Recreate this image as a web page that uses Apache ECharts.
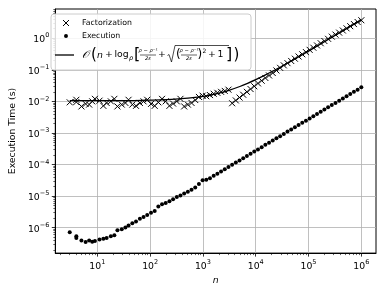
<!DOCTYPE html>
<html><head><meta charset="utf-8">
<script src="https://cdn.jsdelivr.net/npm/echarts@6/dist/echarts.min.js"></script>
<style>html,body{margin:0;padding:0;background:#fff}#c{width:386px;height:290px}</style>
</head><body><div id="c"></div>
<script>
// ---- data ----
const nValues = [3,4,4,5,6,7,8,9,11,13,15,18,21,24,29,34,39,46,54,64,75,88,104,122,143,168,197,232,272,320,
  375,441,518,608,715,839,986,1158,1360,1598,1877,2205,2590,3042,3573,4198,4931,5792,6803,7991,
  9387,11027,12953,15215,17871,20993,24659,28966,34024,39966,46946,55144,64774,76086,89373,104981,123314,144848,170143,199855,
  234756,275752,323907,380471,446913,524958,616631,724312,850799,1000000];

const factorizationTime = [9.3e-3,1.12e-2,9.5e-3,6.9e-3,8.3e-3,7.9e-3,1.0e-2,1.2e-2,1.05e-2,7.2e-3,
  8.9e-3,1.0e-2,1.2e-2,6.9e-3,7.9e-3,8.9e-3,1.12e-2,7.9e-3,7.2e-3,8.9e-3,
  1.0e-2,1.12e-2,8.3e-3,7.2e-3,9.3e-3,1.2e-2,1.0e-2,7.2e-3,8.5e-3,1.0e-2,
  1.2e-2,6.9e-3,7.9e-3,8.9e-3,1.1e-2,1.38e-2,1.51e-2,1.45e-2,1.58e-2,1.74e-2,
  1.86e-2,2.0e-2,2.14e-2,2.34e-2,8.7e-3,1.07e-2,1.32e-2,1.62e-2,2.0e-2,2.45e-2,
  3.0e-2,3.7e-2,4.5e-2,5.5e-2,6.6e-2,7.9e-2,9.5e-2,0.115,0.138,0.162,
  0.19,0.224,0.263,0.309,0.363,0.427,0.5,0.589,0.692,0.813,
  0.955,1.12,1.3,1.5,1.75,2.05,2.4,2.8,3.25,3.7];

const executionTime = [7.1e-7,5.4e-7,4.7e-7,3.9e-7,3.5e-7,3.9e-7,3.6e-7,3.8e-7,4.2e-7,4.5e-7,
  4.7e-7,5.4e-7,5.8e-7,8.3e-7,8.9e-7,1.02e-6,1.17e-6,1.38e-6,1.58e-6,1.9e-6,
  2.19e-6,2.5e-6,2.95e-6,3.4e-6,4.7e-6,5.5e-6,6.0e-6,6.9e-6,7.9e-6,9.3e-6,
  1.05e-5,1.2e-5,1.38e-5,1.58e-5,1.86e-5,2.4e-5,3.16e-5,3.3e-5,3.7e-5,4.4e-5,
  5.1e-5,6.0e-5,7.1e-5,8.3e-5,9.8e-5,1.15e-4,1.35e-4,1.58e-4,1.86e-4,2.19e-4,
  2.57e-4,3.0e-4,3.55e-4,4.2e-4,4.9e-4,5.8e-4,6.8e-4,7.9e-4,9.3e-4,1.1e-3,
  1.29e-3,1.51e-3,1.78e-3,2.09e-3,2.45e-3,2.88e-3,3.4e-3,3.98e-3,4.7e-3,5.5e-3,
  6.5e-3,7.6e-3,8.9e-3,1.05e-2,1.23e-2,1.45e-2,1.7e-2,2.0e-2,2.34e-2,2.82e-2];

const fitN = [3,10,30,100,300,1000,1500,2000,3000,5000,7000,10000,15000,20000,30000,50000,100000,300000,1000000];
const fitTime = [0.0105,0.0105,0.0105,0.0109,0.0117,0.0143,0.0162,0.0181,0.0219,0.0295,0.0371,0.0485,0.0675,0.0865,0.1245,0.2005,0.3905,1.15,3.81];

const xTickExponents = [1,2,3,4,5,6];
const yTickExponents = [-6,-5,-4,-3,-2,-1,0];
const seriesNames = ['Factorization','Execution','fit'];

// ---- axis ranges in decades ----
const xMin = 0.204, xMax = 6.278;
const yMin = -6.805, yMax = 0.924;

const lg = Math.log10;
function minorTicks(lo, hi, a, b) {
  const out = [];
  for (let d = lo; d <= hi; d++) for (let k = 2; k <= 9; k++) {
    const v = d + lg(k);
    if (v > a && v < b) out.push(v);
  }
  return out;
}
const FONT = 'DejaVu Sans';
function pow10Label(v) {
  const e = Math.round(v);
  const s = e < 0 ? '\u2212' + (-e) : '' + e;
  return '{b|10}{s|' + s + '}';
}
const labelRich = {
  b: {fontFamily: FONT, fontSize: 9.3, color: '#000', verticalAlign: 'bottom', lineHeight: 12},
  s: {fontFamily: FONT, fontSize: 6.5, color: '#000', verticalAlign: 'top', lineHeight: 7}
};

const crossPath = 'path://M0,0L10,10M10,0L0,10';
const dotIcon = 'path://M0,0M10,10M1.7,5A3.3,3.3,0,1,0,8.3,5A3.3,3.3,0,1,0,1.7,5Z';

// ---- formula (legend label of the fit line) ----
const FY = 55;
function t(x, y, text, size, opts) {
  opts = opts || {};
  return {type: 'text', x: x, y: y, z: 100, silent: true,
    style: {text: text, fontSize: size, fontFamily: opts.family || FONT, fontStyle: opts.italic ? 'italic' : 'normal',
      fill: '#000', align: opts.align || 'left', verticalAlign: 'middle'}};
}
function ln(x1, y1, x2, y2, w) {
  return {type: 'line', z: 100, silent: true, shape: {x1: x1, y1: y1, x2: x2, y2: y2}, style: {stroke: '#000', lineWidth: w || 0.6}};
}
const formula = [
  ln(55, FY, 74, FY, 1.3),
  t(82, FY, '𝒪', 10.5, {italic: true, family: 'DejaVu Serif'}),
  t(91, FY, '(', 15),
  t(97, FY + 0.5, 'n', 9.3, {italic: true}),
  t(105, FY, '+', 9.3),
  t(114.5, FY, 'log', 9.3),
  t(129, FY + 3, 'ρ', 6.5, {italic: true}),
  t(134, FY, '[', 16),
  t(148, FY - 4, 'ρ − ρ⁻¹', 5.2, {align: 'center', italic: true}),
  ln(140, FY, 156, FY),
  t(148, FY + 4, '2ε', 5.2, {align: 'center', italic: true}),
  t(158, FY, '+', 9.3),
  {type: 'polyline', z: 100, silent: true, shape: {points: [[167.5, FY + 0.5], [169, FY - 0.5], [171.5, FY + 7], [175, FY - 9.5], [229, FY - 9.5]]},
    style: {stroke: '#000', lineWidth: 0.7, fill: null}},
  t(176, FY, '(', 12),
  t(189, FY - 4, 'ρ − ρ⁻¹', 5.2, {align: 'center', italic: true}),
  ln(181, FY, 197, FY),
  t(189, FY + 4, '2ε', 5.2, {align: 'center', italic: true}),
  t(197.5, FY, ')', 12),
  t(202.5, FY - 4, '2', 6),
  t(208, FY, '+', 9.3),
  t(217.5, FY, '1', 9.3),
  t(226, FY, ']', 16),
  t(233.5, FY, ')', 15)
];

const chart = echarts.init(document.getElementById('c'), null, {renderer: 'canvas'});
chart.setOption({
  animation: false,
  backgroundColor: '#fff',
  grid: {left: 48, right: 10, top: 9, bottom: 36, show: true, borderColor: '#000', borderWidth: 1, backgroundColor: 'transparent'},
  xAxis: [
    {type: 'value', min: xMin, max: xMax, position: 'bottom',
      axisLine: {show: true, onZero: false, lineStyle: {color: '#000', width: 1}},
      axisTick: {show: true, customValues: xTickExponents, length: 3.5, lineStyle: {color: '#000', width: 0.8}},
      axisLabel: {customValues: xTickExponents, formatter: pow10Label, rich: labelRich, margin: 6},
      splitLine: {show: true, lineStyle: {color: '#b0b0b0', width: 0.8}},
      name: 'n', nameLocation: 'middle', nameGap: 18,
      nameTextStyle: {fontFamily: FONT, fontStyle: 'italic', fontSize: 9.3, color: '#000'}},
    {type: 'value', min: xMin, max: xMax, position: 'bottom',
      axisLine: {show: false, onZero: false}, axisLabel: {show: false}, splitLine: {show: false},
      axisTick: {show: true, customValues: minorTicks(0, 6, xMin, xMax), length: 2, lineStyle: {color: '#000', width: 0.6}}}
  ],
  yAxis: [
    {type: 'value', min: yMin, max: yMax, position: 'left',
      axisLine: {show: true, onZero: false, lineStyle: {color: '#000', width: 1}},
      axisTick: {show: true, customValues: yTickExponents, length: 3.5, lineStyle: {color: '#000', width: 0.8}},
      axisLabel: {customValues: yTickExponents, formatter: pow10Label, rich: labelRich, margin: 6, align: 'right'},
      splitLine: {show: true, lineStyle: {color: '#b0b0b0', width: 0.8}},
      name: 'Execution Time (s)', nameLocation: 'middle', nameGap: 30,
      nameTextStyle: {fontFamily: FONT, fontSize: 9.3, color: '#000'}},
    {type: 'value', min: yMin, max: yMax, position: 'left',
      axisLine: {show: false, onZero: false}, axisLabel: {show: false}, splitLine: {show: false},
      axisTick: {show: true, customValues: minorTicks(-7, 0, yMin, yMax), length: 2, lineStyle: {color: '#000', width: 0.6}}}
  ],
  legend: {
    orient: 'vertical', left: 51, top: 14, padding: [4, 6, 0, 4], itemWidth: 22, itemHeight: 6, itemGap: 3,
    backgroundColor: 'rgba(255,255,255,0.85)', borderColor: '#cccccc', borderWidth: 1, borderRadius: 3,
    textStyle: {fontFamily: FONT, fontSize: 7.8, color: '#000', lineHeight: 10,
      rich: {f: {width: 163, height: 26, fontSize: 7.8, lineHeight: 26}}},
    formatter: function (name) { return name === 'fit' ? '{f| }' : name; },
    data: [
      {name: 'Factorization', icon: crossPath, itemStyle: {color: '#000', borderColor: '#000', borderWidth: 1, opacity: 1}},
      {name: 'Execution', icon: dotIcon, itemStyle: {color: '#000', borderWidth: 0, opacity: 1}},
      {name: 'fit', icon: 'rect', itemStyle: {color: 'rgba(0,0,0,0)', borderColor: 'rgba(0,0,0,0)', borderWidth: 0},
        lineStyle: {color: 'rgba(0,0,0,0)', width: 0}}
    ]
  },
  graphic: formula,
  series: [
    {name: seriesNames[0], type: 'scatter', xAxisIndex: 0, yAxisIndex: 0, symbol: crossPath, symbolSize: 6,
      itemStyle: {color: '#000', borderColor: '#000', borderWidth: 1, opacity: 1},
      data: nValues.map((n, i) => [lg(n), lg(factorizationTime[i])])},
    {name: seriesNames[1], type: 'scatter', xAxisIndex: 0, yAxisIndex: 0, symbol: 'circle', symbolSize: 4,
      itemStyle: {color: '#000', opacity: 1},
      data: nValues.map((n, i) => [lg(n), lg(executionTime[i])])},
    {name: seriesNames[2], type: 'line', xAxisIndex: 0, yAxisIndex: 0, symbol: 'none', smooth: 0.3,
      lineStyle: {color: '#000', width: 1.3}, itemStyle: {color: '#000'},
      data: fitN.map((n, i) => [lg(n), lg(fitTime[i])])}
  ]
});
</script></body></html>
